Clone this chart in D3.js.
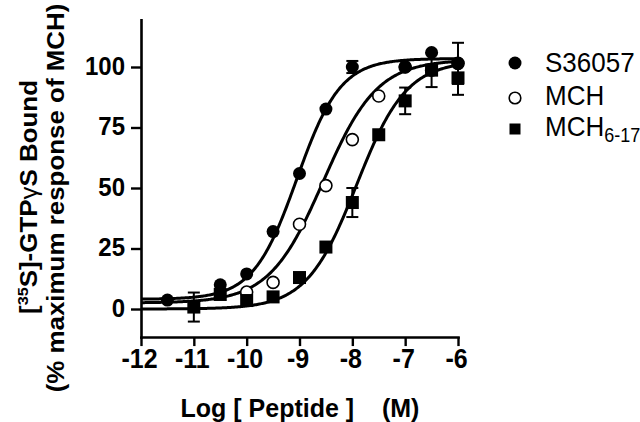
<!DOCTYPE html>
<html><head><meta charset="utf-8">
<script src="https://cdn.jsdelivr.net/npm/d3@7"></script>
<style>
body{margin:0;background:#fff}
svg{display:block}
text{font-family:"Liberation Sans",Arial,Helvetica,sans-serif;fill:#000}
</style>
</head><body><svg id="c" width="640" height="422"></svg>
<script>
// ---- data ----
const xTicks = [-12, -11, -10, -9, -8, -7, -6];
const yTicks = [0, 25, 50, 75, 100];
const seriesNames = ["S36057", "MCH", "MCH6-17"];

const s36057X   = [-11.5, -10.5, -10, -9.5, -9, -8.5, -8, -7, -6.5, -6];
const s36057Y   = [3.7, 10, 14.5, 32, 56, 82.6, 100, 100, 106, 101.5];
const s36057Err = [0, 0, 0, 0, 0, 0, 2.5, 0, 0, 8.5];

const mchX   = [-10, -9.5, -9, -8.5, -8, -7.5, -7, -6.5, -6];
const mchY   = [7, 11, 35, 51, 70, 88, 100, 98.7, 101.5];
const mchErr = [0, 0, 0, 0, 0, 0, 0, 0, 0];

const mch617X   = [-11, -10.5, -10, -9.5, -9, -8.5, -8, -7.5, -7, -6.5, -6];
const mch617Y   = [0.8, 6, 3.5, 5, 13, 25.6, 44, 72, 86, 98.7, 95.5];
const mch617Err = [6, 0, 0, 0, 0, 0, 6, 0, 5.5, 7, 7];

// fitted sigmoid parameters (S36057, MCH, MCH6-17)
const fitBottom = [4, 2.5, 0];
const fitTop    = [103.5, 103, 102.5];
const fitEC50   = [-9.05, -8.55, -7.92];
const fitHill   = [1.05, 0.85, 0.92];

// ---- drawing ----
const svg = d3.select("#c");
const x = d3.scaleLinear().domain([-12, -6]).range([141, 458]);
const y = d3.scaleLinear().domain([0, 100]).range([309, 67]);
const yAxisScale = y.copy().domain([-11.6, 119.5]).range([y(-11.6), y(119.5)]);
const axisY0 = y(-11.6);

// curves
const fitFn = i => v => fitBottom[i] + (fitTop[i] - fitBottom[i]) / (1 + Math.pow(10, (fitEC50[i] - v) * fitHill[i]));
const xs = d3.range(-12, -6.0001, 0.02).concat([-6]);
const line = d3.line().x(d => x(d[0])).y(d => y(d[1]));
[0, 1, 2].forEach(i => {
  const f = fitFn(i);
  svg.append("path")
    .attr("d", line(xs.map(v => [v, f(v)])))
    .attr("fill", "none").attr("stroke", "#000").attr("stroke-width", 3);
});

// axes
const xAxis = svg.append("g").attr("transform", `translate(0,${axisY0})`)
  .call(d3.axisBottom(x).tickValues(xTicks).tickSize(9).tickSizeOuter(0).tickFormat(d3.format("d")));
const yAxis = svg.append("g").attr("transform", `translate(${x(-12)},0)`)
  .call(d3.axisLeft(yAxisScale).tickValues(yTicks).tickSize(10).tickSizeOuter(0).tickFormat(d3.format("d")));
[xAxis, yAxis].forEach(g => {
  g.select(".domain").attr("stroke", "#000").attr("stroke-width", 2.6).attr("stroke-linecap", "square");
  g.selectAll(".tick line").attr("stroke", "#000").attr("stroke-width", 2.4);
  g.selectAll(".tick text").attr("font-weight", "bold")
    .attr("font-family", '"Liberation Sans",Arial,sans-serif').attr("fill", "#000");
});
xAxis.selectAll(".tick text").attr("y", null).attr("dy", null).attr("font-size", 25)
  .attr("transform", "translate(-2,31) scale(1,1.12)").text(d => d3.format("d")(d).replace("−", "-"));
yAxis.selectAll(".tick text").attr("x", null).attr("dy", null).attr("font-size", 24)
  .attr("text-anchor", "end")
  .attr("transform", "translate(-16,7) scale(1,1.05)");

// error bars
function errBars(xa, ya, ea) {
  xa.forEach((v, i) => {
    if (!ea[i]) return;
    const g = svg.append("g").attr("stroke", "#000").attr("stroke-width", 2);
    const cx = x(v), t = y(ya[i] + ea[i]), b = y(ya[i] - ea[i]);
    g.append("line").attr("x1", cx).attr("x2", cx).attr("y1", t).attr("y2", b);
    g.append("line").attr("x1", cx - 6).attr("x2", cx + 6).attr("y1", t).attr("y2", t);
    g.append("line").attr("x1", cx - 6).attr("x2", cx + 6).attr("y1", b).attr("y2", b);
  });
}
errBars(mchX, mchY, mchErr);
errBars(mch617X, mch617Y, mch617Err);
errBars(s36057X, s36057Y, s36057Err);

// markers
svg.append("g").selectAll("circle").data(mchX).join("circle")
  .attr("cx", d => x(d)).attr("cy", (d, i) => y(mchY[i])).attr("r", 6)
  .attr("fill", "#fff").attr("stroke", "#000").attr("stroke-width", 1.6);
svg.append("g").selectAll("rect").data(mch617X).join("rect")
  .attr("x", d => x(d) - 6.5).attr("y", (d, i) => y(mch617Y[i]) - 6.5)
  .attr("width", 13).attr("height", 13).attr("fill", "#000");
svg.append("g").selectAll("circle").data(s36057X).join("circle")
  .attr("cx", d => x(d)).attr("cy", (d, i) => y(s36057Y[i])).attr("r", 6.5)
  .attr("fill", "#000");

// legend
const lg = svg.append("g");
lg.append("circle").attr("cx", 515).attr("cy", 63).attr("r", 6.5).attr("fill", "#000");
lg.append("circle").attr("cx", 515).attr("cy", 98).attr("r", 5.8).attr("fill", "#fff").attr("stroke", "#000").attr("stroke-width", 1.6);
lg.append("rect").attr("x", 509.5).attr("y", 123.5).attr("width", 11).attr("height", 11).attr("fill", "#000");
const legRows = [[seriesNames[0], 72], [seriesNames[1], 105]];
legRows.forEach(([t, by]) => {
  lg.append("text").attr("transform", `translate(545,${by}) scale(1,1.08)`)
    .attr("font-size", 26).text(t);
});
const t3 = lg.append("text").attr("transform", "translate(545,136) scale(1,1.08)").attr("font-size", 26);
t3.append("tspan").text("MCH");
t3.append("tspan").attr("font-size", 18).attr("dy", 6).text("6-17");

// axis titles
svg.append("text").attr("x", 300).attr("y", 417).attr("text-anchor", "middle")
  .attr("font-size", 25).attr("font-weight", "bold").style("white-space", "pre")
  .text("Log [ Peptide ]    (M)");

const yl1 = svg.append("text").attr("transform", "translate(37,197) scale(1,1.08) rotate(-90)")
  .attr("text-anchor", "middle").attr("font-size", 24).attr("font-weight", "bold");
yl1.append("tspan").text("[");
yl1.append("tspan").attr("font-size", 15).attr("dy", -9).text("35");
yl1.append("tspan").attr("dy", 9).text("S]-GTP");
yl1.append("tspan").attr("font-weight", "normal").text("γ");
yl1.append("tspan").text("S Bound");
svg.append("text").attr("transform", "translate(64,198) scale(1,1.08) rotate(-90)")
  .attr("text-anchor", "middle").attr("font-size", 24).attr("font-weight", "bold")
  .text("(% maximum response of MCH)");
</script>
</body></html>
